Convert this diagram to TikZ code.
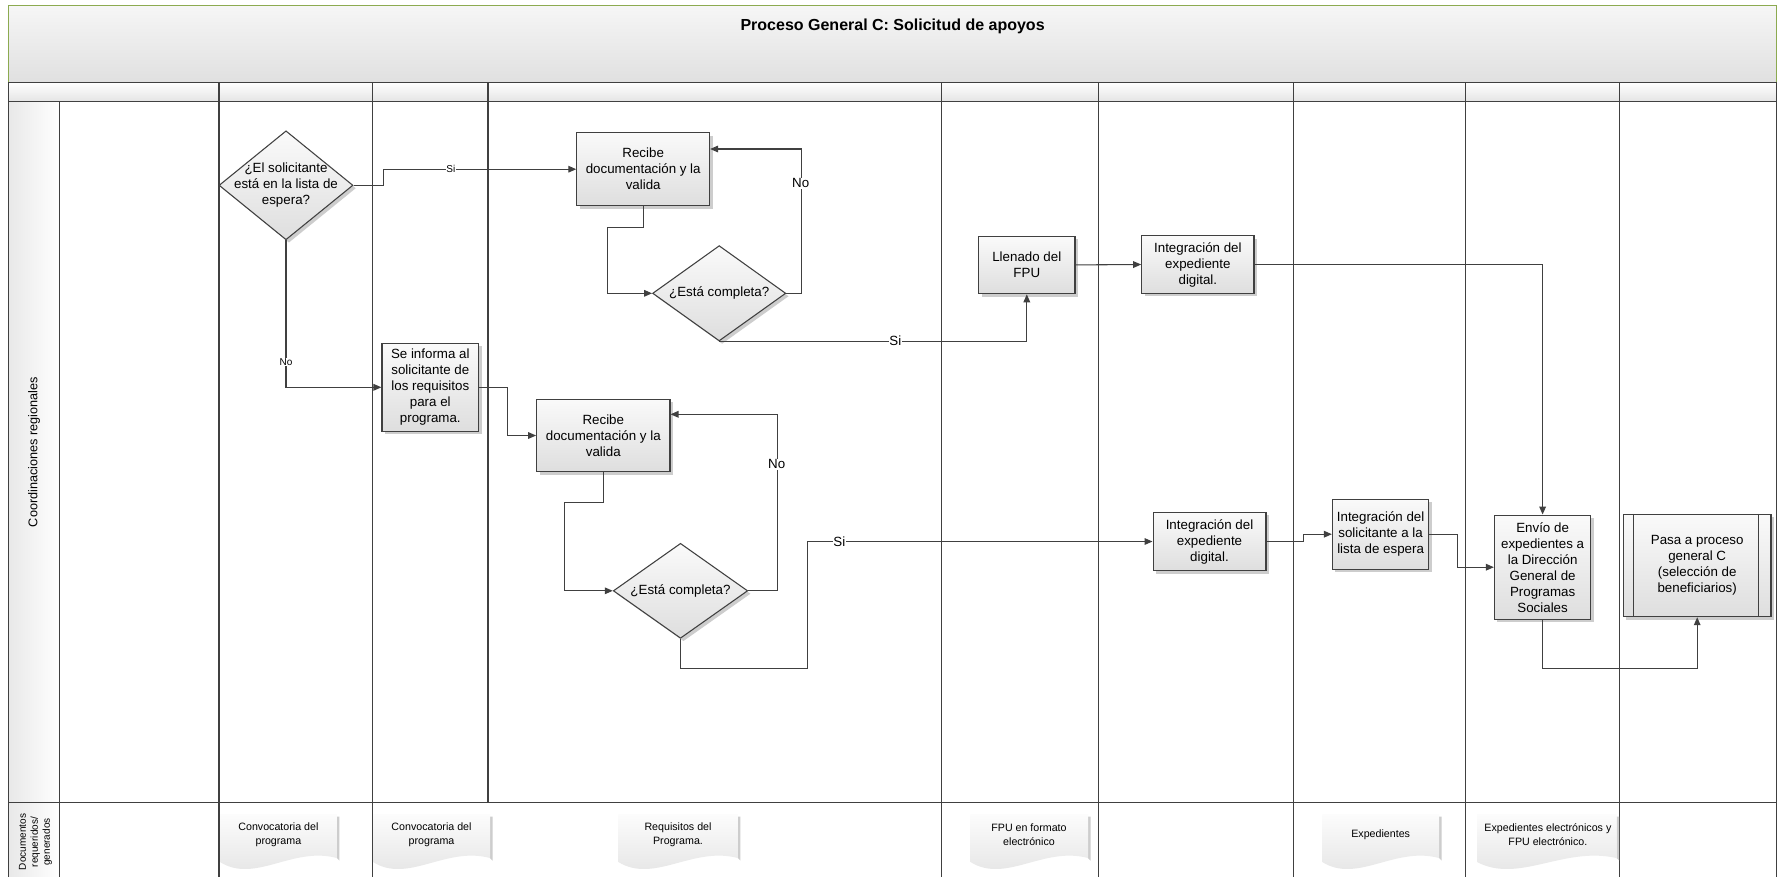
\documentclass[tikz,border=0pt]{standalone}
\usepackage{fontspec}
\setmainfont{Liberation Sans}
\usetikzlibrary{shapes.geometric,arrows.meta,shadows,calc}
\definecolor{ln}{RGB}{64,64,64}
\definecolor{grn}{RGB}{140,170,80}
\definecolor{boxtop}{RGB}{250,250,250}
\definecolor{boxbot}{RGB}{222,222,222}
\definecolor{shd}{RGB}{205,205,205}
\definecolor{titletop}{RGB}{246,246,246}
\definecolor{titlebot}{RGB}{224,224,224}
\definecolor{hdrbot}{RGB}{228,228,228}
\definecolor{lblleft}{RGB}{232,232,232}
\definecolor{doctop}{RGB}{252,252,252}
\definecolor{docbot}{RGB}{226,226,226}
\tikzset{
  proc/.style={rectangle, draw=ln, line width=0.8pt, top color=boxtop, bottom color=boxbot,
    align=center, font=\fontsize{10}{12}\selectfont, inner sep=1pt,
    drop shadow={shadow xshift=2.2pt, shadow yshift=-2.2pt, fill=shd, opacity=1}},
  dec/.style={diamond, draw=ln, line width=0.8pt, top color=boxtop, bottom color=boxbot,
    inner sep=0pt,
    drop shadow={shadow xshift=2.2pt, shadow yshift=-2.2pt, fill=shd, opacity=1}},
  dectext/.style={align=center, font=\fontsize{10}{12}\selectfont},
  conn/.style={draw=ln, line width=0.8pt, -{Triangle[length=6pt,width=5pt]}},
  lbl/.style={fill=white, inner sep=0.6pt, font=\fontsize{10}{12}\selectfont},
  smalllbl/.style={fill=white, inner sep=0.6pt, font=\fontsize{7.5}{9}\selectfont},
  lane/.style={draw=ln, line width=0.9pt},
  doctext/.style={align=center, font=\fontsize{8}{10}\selectfont},
}
\newcommand\mydocshape[2]{%
  \fill[shd] ({#2},816.5) -- ({#2+2.5},816.5) -- ({#2+2.5},860.5) -- ({#2},858) -- cycle;
  \shade[top color=doctop, bottom color=docbot]
    ({#1},814) -- ({#2},814) -- ({#2},858)
    .. controls ({#1+0.62*(#2-#1)},846) and ({#1+0.3*(#2-#1)},884) .. ({#1},862) -- cycle;
}
\begin{document}
\begin{tikzpicture}[x=0.75pt,y=-0.75pt]
\useasboundingbox (0,0) rectangle (1781,876);
\clip (0,0) rectangle (1781,876);
\fill[white] (0,0) rectangle (1781,876);
% --- frame backgrounds
\shade[top color=titletop, bottom color=titlebot] (8.4,5.7) rectangle (1776.8,82.3);
\shade[top color=white, bottom color=hdrbot] (8.4,82.3) rectangle (1776.8,101.7);
\shade[left color=lblleft, right color=white] (8.4,101.7) rectangle (59.3,880);
% --- frame lines
\draw[grn, line width=1pt] (8.4,82.3) -- (8.4,5.7) -- (1776.8,5.7) -- (1776.8,82.3);
\draw[lane] (8.4,82.3) -- (1776.8,82.3);
\draw[lane] (8.4,101.7) -- (1776.8,101.7);
\draw[lane] (8.4,802.7) -- (1776.8,802.7);
\draw[lane] (8.4,82.3) -- (8.4,880);
\draw[lane] (1776.8,82.3) -- (1776.8,880);
\draw[lane] (59.3,101.7) -- (59.3,880);
\foreach \x in {219,372.4,941.7,1098.7,1293.7,1465.3,1619.5} \draw[lane] (\x,82.3) -- (\x,880);
\draw[lane] (488,82.3) -- (488,802.7);
% --- texts of the frame
\node[font=\bfseries\fontsize{12}{14}\selectfont] (title) at (892.6,26) {Proceso General C: Solicitud de apoyos};
\node[rotate=90, font=\fontsize{9.5}{11}\selectfont] (lanelbl) at (34,452) {Coordinaciones regionales};
\node[rotate=90, align=center, font=\fontsize{7.5}{9}\selectfont] (doclbl) at (35.5,842) {Documentos\\requeridos/\\generados};
% --- documents
\mydocshape{220}{336.8}
\mydocshape{373}{490}
\mydocshape{618.4}{737.8}
\mydocshape{970.5}{1088}
\mydocshape{1322.3}{1439}
\mydocshape{1477}{1616.5}
\node[doctext] (doc1) at (278.4,834.7) {Convocatoria del\\programa};
\node[doctext] (doc2) at (431.5,834.7) {Convocatoria del\\programa};
\node[doctext] (doc3) at (678,834.7) {Requisitos del\\Programa.};
\node[doctext] (doc4) at (1029,834.7) {FPU en formato\\electrónico};
\node[doctext] (doc5) at (1380.7,835) {Expedientes};
\node[doctext] (doc6) at (1547.9,834.7) {Expedientes electrónicos y\\FPU electrónico.};
% --- process nodes
\node[dec, minimum width=100.5pt, minimum height=81.75pt] (d1) at (286,185.3) {};
\node[dectext] (d1t) at (d1.center) {¿El solicitante\\está en la lista de\\espera?};
\node[proc, minimum width=99.6pt, minimum height=54.75pt] (r1) at (643.2,169.2) {Recibe\\documentación y la\\valida};
\node[dec, minimum width=99.9pt, minimum height=71.5pt] (d2) at (719.2,293.3) {};
\node[dectext] (d2t) at (d2.center) {¿Está completa?};
\node[proc, minimum width=72.3pt, minimum height=43.3pt] (llen) at (1026.8,264.9) {Llenado del\\FPU};
\node[proc, minimum width=84.2pt, minimum height=43.2pt] (int1) at (1197.85,264.5) {Integración del\\expediente\\digital.};
\node[proc, minimum width=72.5pt, minimum height=66pt] (seinf) at (430.3,387.3) {Se informa al\\solicitante de\\los requisitos\\para el\\programa.};
\node[proc, minimum width=100pt, minimum height=54.3pt] (r2) at (603.3,435.5) {Recibe\\documentación y la\\valida};
\node[dec, minimum width=100.8pt, minimum height=71.25pt] (d3) at (680.5,590.8) {};
\node[dectext] (d3t) at (d3.center) {¿Está completa?};
\node[proc, minimum width=84.7pt, minimum height=43.8pt] (int2) at (1209.5,541.5) {Integración del\\expediente\\digital.};
\node[proc, minimum width=72.3pt, minimum height=52.7pt] (intsol) at (1380.6,534.2) {Integración del\\solicitante a la\\lista de espera};
\node[proc, minimum width=72.3pt, minimum height=78.2pt] (envio) at (1542.6,567.2) {Envío de\\expedientes a\\la Dirección\\General de\\Programas\\Sociales};
\node[proc, minimum width=110.7pt, minimum height=76.8pt] (pasa) at (1697.2,565.5) {Pasa a proceso\\general C\\(selección de\\beneficiarios)};
\draw[ln, line width=0.8pt] ([xshift=8.2pt]pasa.north west) -- ([xshift=8.2pt]pasa.south west);
\draw[ln, line width=0.8pt] ([xshift=-9.7pt]pasa.north east) -- ([xshift=-9.7pt]pasa.south east);
% --- connectors
\draw[conn] (d1.east) -- ++(29.8,0) |- (r1.west);
\draw[conn] (r1.south) -- ++(0,21.6) -- ++(-35.3,0) |- (d2.west);
\draw[conn] (d2.east) -- ++(14.9,0) |- ([yshift=15.15pt]r1.east);
\draw[conn] (d2.south) -| (llen.south);
\draw[conn] (llen.east) -- (int1.west);
\draw[conn] (int1.east) -| (envio.north);
\draw[conn] (d1.south) |- (seinf.west);
\draw[conn] (seinf.east) -- ++(28.3,0) |- (r2.west);
\draw[conn] (r2.south) -- ++(0,30) -- ++(-39,0) |- (d3.west);
\draw[conn] (d3.east) -- ++(29,0) |- ([yshift=15.9pt]r2.east);
\draw[conn] (d3.south) -- ++(0,29.4) -- ++(127.2,0) |- (int2.west);
\draw[conn] (int2.east) -- ++(37.4,0) |- (intsol.west);
\draw[conn] (intsol.east) -- ++(28.2,0) |- (envio.west);
\draw[conn] (envio.south) -- ++(0,49) -| (pasa.south);
% --- connector labels
\node[smalllbl] (l1) at (450.8,169.2) {Si};
\node[lbl] (l2) at (800.7,183.3) {No};
\node[lbl] (l3) at (895.4,340.9) {Si};
\node[smalllbl] (l4) at (286,362) {No};
\node[lbl] (l5) at (776.7,464.3) {No};
\node[lbl] (l6) at (839.3,541.5) {Si};
\end{tikzpicture}
\end{document}
